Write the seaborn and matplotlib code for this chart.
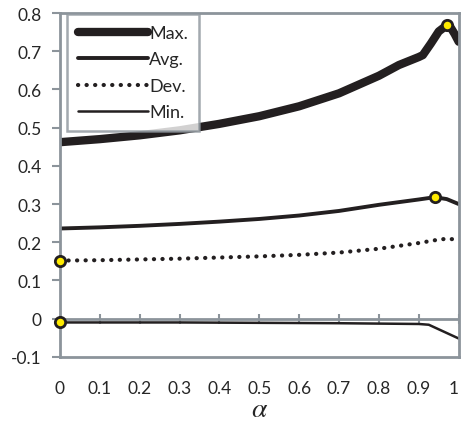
import numpy as np
import pandas as pd
import seaborn as sns
import matplotlib.pyplot as plt

# values
alpha_max = [0, 0.1, 0.2, 0.3, 0.4, 0.5, 0.6, 0.7, 0.8, 0.85, 0.9, 0.91, 0.93, 0.95, 0.97, 0.98, 0.99, 1.0]
max_vals = [0.462, 0.470, 0.480, 0.493, 0.510, 0.530, 0.556, 0.590, 0.636, 0.664, 0.685, 0.690, 0.720, 0.752, 0.768, 0.762, 0.745, 0.725]

alpha_avg = [0, 0.1, 0.2, 0.3, 0.4, 0.5, 0.6, 0.7, 0.8, 0.9, 0.94, 0.97, 1.0]
avg_vals = [0.236, 0.239, 0.243, 0.248, 0.254, 0.261, 0.270, 0.282, 0.298, 0.312, 0.318, 0.313, 0.300]

alpha_dev = [0, 0.1, 0.2, 0.3, 0.4, 0.5, 0.6, 0.7, 0.8, 0.9, 0.95, 0.97, 1.0]
dev_vals = [0.152, 0.153, 0.155, 0.157, 0.160, 0.163, 0.167, 0.173, 0.183, 0.198, 0.207, 0.209, 0.207]

alpha_min = [0, 0.3, 0.5, 0.7, 0.9, 0.925, 1.0]
min_vals = [-0.010, -0.010, -0.011, -0.012, -0.014, -0.016, -0.052]

# highlighted points
hl_x = [0.97, 0.94, 0, 0]
hl_y = [0.768, 0.318, 0.152, -0.010]

y_ticks = [0.8, 0.7, 0.6, 0.5, 0.4, 0.3, 0.2, 0.1, 0, -0.1]
y_labels = ['0.8', '0.7', '0.6', '0.5', '0.4', '0.3', '0.2', '0.1', '0', '-0.1']
x_ticks = [0, 0.1, 0.2, 0.3, 0.4, 0.5, 0.6, 0.7, 0.8, 0.9, 1.0]
x_labels = ['0', '0.1', '0.2', '0.3', '0.4', '0.5', '0.6', '0.7', '0.8', '0.9', '1']

sns.set_theme(style='white')
plt.rcParams['font.family'] = ['Lato', 'DejaVu Sans']
plt.rcParams['mathtext.fontset'] = 'stix'

gray = '#8c949b'
ink = '#231f20'
txt = '#262626'

fig = plt.figure(figsize=(4.61, 4.27), dpi=100)
ax = fig.add_axes([0.130, 0.162, 0.865, 0.805])

sns.lineplot(x=alpha_max, y=max_vals, ax=ax, color=ink, lw=6, label='Max.',
             solid_capstyle='round', solid_joinstyle='round')
sns.lineplot(x=alpha_avg, y=avg_vals, ax=ax, color=ink, lw=2.8, label='Avg.',
             solid_capstyle='round')
sns.lineplot(x=alpha_dev, y=dev_vals, ax=ax, color=ink, lw=3.0, label='Dev.',
             linestyle=(0, (0.05, 2.0)), dash_capstyle='round')
sns.lineplot(x=alpha_min, y=min_vals, ax=ax, color=ink, lw=1.8, label='Min.')

# the y = 0 axis line with its ticks
ax.axhline(0, color=gray, lw=2, zorder=1)
ax.plot(x_ticks, [0] * len(x_ticks), ls='none', marker='|', ms=7, mew=1.5, color=gray, zorder=1)

ax.scatter(hl_x, hl_y, s=55, color='#ffeb00', edgecolor=ink, linewidth=2, zorder=5, clip_on=False)

ax.set_xlim(0, 1)
ax.set_ylim(-0.1, 0.8)
ax.set_yticks(y_ticks)
ax.set_yticklabels(y_labels)
ax.set_xticks(x_ticks)
ax.set_xticklabels(x_labels)
ax.get_xticklabels()[-1].set_horizontalalignment('right')
ax.tick_params(axis='y', length=6, width=1.5, color=gray, left=True, labelsize=12.5,
               labelcolor=txt, pad=7)
ax.tick_params(axis='x', length=0, labelsize=12.5, labelcolor=txt, pad=17)
ax.set_xlabel(r'$\alpha$', fontsize=20, labelpad=-1, color=txt)

for s in ax.spines.values():
    s.set_color(gray)
    s.set_linewidth(2)

leg = ax.legend(loc='upper left', bbox_to_anchor=(0.018, 0.997), frameon=True, fancybox=False,
                fontsize=13, handlelength=3.9, handletextpad=0.05, labelspacing=0.58,
                borderpad=0.6, borderaxespad=0.0)
leg.get_frame().set_edgecolor(gray)
leg.get_frame().set_linewidth(1.8)
for t in leg.get_texts():
    t.set_color(txt)

fig.savefig('out.png', dpi=100)
